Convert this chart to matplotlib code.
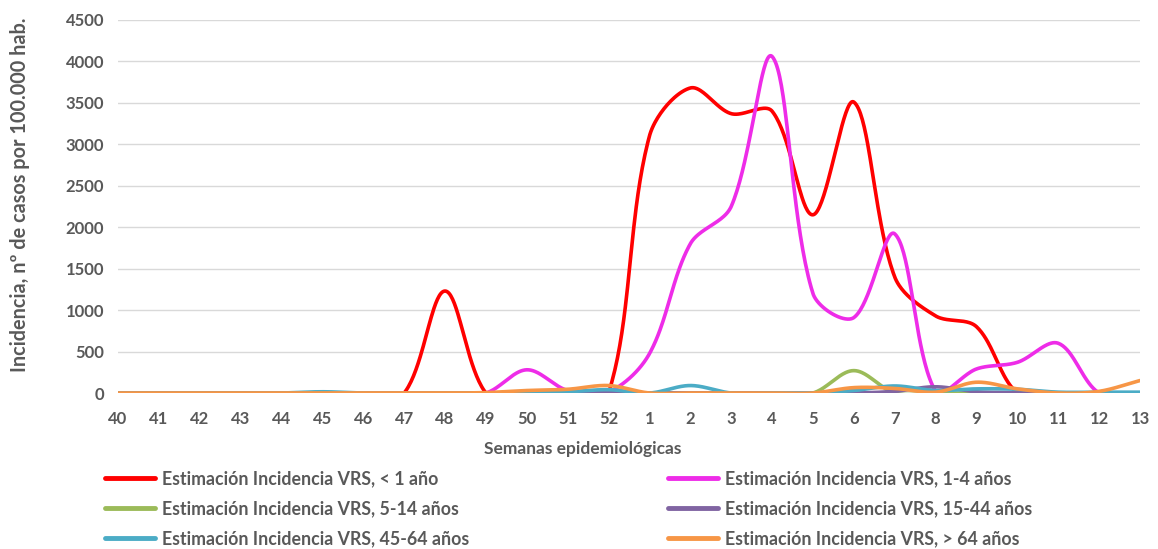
import matplotlib.pyplot as plt
import numpy as np

# semanas 40-52 de un año y 1-13 del siguiente
weeks = [str(w) for w in range(40, 53)] + [str(w) for w in range(1, 14)]

inc_lt1 = [0, 0, 0, 0, 0, 0, 0, 0, 1230, 0, 0, 0, 0,
           3100, 3680, 3370, 3400, 2150, 3510, 1400, 930, 800, 0, 0, 0, 0]
inc_1_4 = [0, 0, 0, 0, 0, 0, 0, 0, 0, 0, 280, 30, 10,
           474, 1800, 2250, 4060, 1200, 910, 1920, 20, 290, 370, 600, 0, 0]
inc_5_14 = [0, 0, 0, 0, 0, 0, 0, 0, 0, 0, 0, 0, 0,
            0, 0, 0, 0, 0, 270, 0, 0, 0, 0, 0, 0, 0]
inc_15_44 = [0, 0, 0, 0, 0, 0, 0, 0, 0, 0, 0, 0, 15,
             0, 0, 0, 0, 0, 0, 20, 75, 15, 5, 0, 0, 0]
inc_45_64 = [0, 0, 0, 0, 0, 15, 0, 0, 0, 0, 5, 15, 40,
             0, 90, 0, 0, 0, 30, 85, 30, 50, 45, 10, 10, 10]
inc_gt64 = [0, 0, 0, 0, 0, 0, 0, 0, 0, 5, 30, 45, 90,
            0, 0, 0, 0, 0, 65, 55, 10, 130, 50, 0, 20, 150]

labels = ['Estimación Incidencia VRS, < 1 año',
          'Estimación Incidencia VRS, 1-4 años',
          'Estimación Incidencia VRS, 5-14 años',
          'Estimación Incidencia VRS, 15-44 años',
          'Estimación Incidencia VRS, 45-64 años',
          'Estimación Incidencia VRS, > 64 años']
colors = ['#FF0000', '#EE2CE8', '#9BBB59', '#8064A2', '#4BACC6', '#F79646']
series = [inc_lt1, inc_1_4, inc_5_14, inc_15_44, inc_45_64, inc_gt64]

txt = '#595959'
plt.rcParams['font.family'] = ['Lato', 'DejaVu Sans']
plt.rcParams['font.weight'] = 'bold'

# approx screen scale (px per x unit, px per y unit) so the smoothing acts like excel's
SX, SY = 40.76, 41.4 / 500


def smooth(y, n=40):
    # excel-like smoothed line: bezier through the points, built in screen space,
    # tangents weighted by chord length
    x = np.arange(len(y)) * SX
    yy = np.asarray(y, float) * SY
    P = np.column_stack([x, yy])
    P = np.vstack([P[0], P, P[-1]])
    out = []
    t = np.linspace(0, 1, n, endpoint=False)[:, None]
    for i in range(len(y) - 1):
        p0, p1, p2, p3 = P[i], P[i + 1], P[i + 2], P[i + 3]
        d01 = np.hypot(*(p1 - p0))
        d12 = np.hypot(*(p2 - p1))
        d23 = np.hypot(*(p3 - p2))
        c1 = p1 + (p2 - p0) * (d12 / (d01 + d12)) / 3 if d01 + d12 > 0 else p1
        c2 = p2 - (p3 - p1) * (d12 / (d12 + d23)) / 3 if d12 + d23 > 0 else p2
        out.append((1 - t)**3 * p1 + 3 * (1 - t)**2 * t * c1 + 3 * (1 - t) * t**2 * c2 + t**3 * p2)
    out.append(P[-1][None, :])
    out = np.vstack(out)
    return out[:, 0] / SX, out[:, 1] / SY


fig = plt.figure(figsize=(11.58, 5.49), dpi=100)
ax = fig.add_axes([118 / 1158, 1 - 393 / 549, (1140 - 118) / 1158, (393 - 20) / 549])

lines = []
for vals, c, lab in zip(series, colors, labels):
    sx, sy = smooth(vals)
    ln, = ax.plot(sx, sy, color=c, lw=2.6, label=lab, solid_capstyle='round')
    lines.append(ln)

ax.set_xlim(0, len(weeks) - 1)
ax.set_ylim(0, 4500)
ax.set_yticks(range(0, 4501, 500))
ax.set_xticks(range(len(weeks)))
ax.set_xticklabels(weeks)
ax.grid(axis='y', color='#D9D9D9', lw=1)
ax.set_axisbelow(True)
for s in ax.spines.values():
    s.set_visible(False)
ax.tick_params(length=0, labelsize=12, labelcolor=txt)
ax.tick_params(axis='x', pad=13)
ax.tick_params(axis='y', pad=10)

ax.set_xlabel('Semanas epidemiológicas', fontsize=12.5, color=txt, fontweight='bold')
ax.xaxis.set_label_coords((583 - 118) / 1022, -(441 - 393) / 373)
ax.set_ylabel('Incidencia, nº de casos por 100.000 hab.', fontsize=14.3, color=txt, fontweight='bold')
ax.yaxis.set_label_coords(-(118 - 30) / 1022, (393 - 195) / 373)

# legend in two columns, filled row by row
for col, x0 in enumerate([105, 668]):
    idx = [col, col + 2, col + 4]
    leg = fig.legend([lines[i] for i in idx], [labels[i] for i in idx],
                     loc='upper left', bbox_to_anchor=(x0 / 1158, 1 - 470 / 549),
                     frameon=False, fontsize=12.8, handlelength=2.8,
                     labelspacing=0.75, handletextpad=0.4, borderpad=0, borderaxespad=0)
    for t in leg.get_texts():
        t.set_color(txt)
    for l in leg.get_lines():
        l.set_linewidth(3.5)

plt.savefig('out.png', dpi=100)
